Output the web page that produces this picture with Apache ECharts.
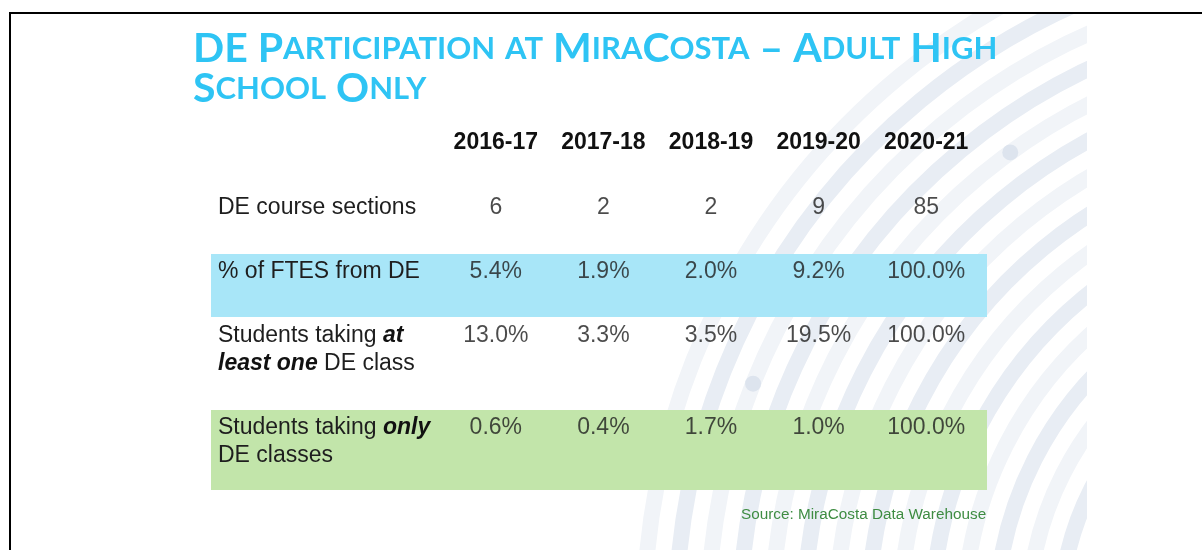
<!DOCTYPE html>
<html>
<head>
<meta charset="utf-8">
<script src="https://cdn.jsdelivr.net/npm/echarts@6/dist/echarts.min.js"></script>
<style>
  html, body { margin: 0; padding: 0; background: #fff; }
  #main { width: 1202px; height: 550px; }
</style>
</head>
<body>
<div id="main"></div>
<script>
// table data
var years = ['2016-17', '2017-18', '2018-19', '2019-20', '2020-21'];
var rowNames = [
  'DE course sections',
  '% of FTES from DE',
  'Students taking at least one DE class',
  'Students taking only DE classes'
];
var courseSections = [6, 2, 2, 9, 85];
var ftesPct = [5.4, 1.9, 2.0, 9.2, 100.0];
var atLeastOnePct = [13.0, 3.3, 3.5, 19.5, 100.0];
var onlyDePct = [0.6, 0.4, 1.7, 1.0, 100.0];

var titleText = 'DE Participation at MiraCosta \u2013 Adult High\nSchool Only';
var sourceText = 'Source: MiraCosta Data Warehouse';

// layout
var FONT = 'Liberation Sans, Arial, sans-serif';
var TEXT = '#1e1e1e';
var FS = 23;
var LH = 28;
var rowLine = [208, 272, 336, 428]; // centre of the first text line of each row
var colLeft = 442, colWidth = 538;
var bandLeft = 211, bandWidth = 776;

var rows = [
  { values: courseSections, fmt: function (v) { return String(v); }, band: null },
  { values: ftesPct, fmt: function (v) { return v.toFixed(1) + '%'; }, band: { top: 254, height: 63, color: '#a8e6f8' } },
  { values: atLeastOnePct, fmt: function (v) { return v.toFixed(1) + '%'; }, band: null },
  { values: onlyDePct, fmt: function (v) { return v.toFixed(1) + '%'; }, band: { top: 410, height: 80, color: '#c2e5aa' } }
];

// row label: bold italic for the emphasised words
function rowLabel(name) {
  return name
    .replace('at least one', '{bi|at}\n{bi|least one}')
    .replace('only DE', '{bi|only}\nDE');
}

// title in small caps
function smallCaps(s) {
  return s.split('\n').map(function (line) {
    return line.replace(/([a-z]+)|([^a-z]+)/g, function (m, lo, other) {
      return lo ? '{s|' + lo.toUpperCase() + '}' : '{L|' + other + '}';
    });
  }).join('\n');
}

var grids = [], xAxes = [], yAxes = [], series = [];
rows.forEach(function (row, i) {
  grids.push({ left: colLeft, width: colWidth, top: rowLine[i] - 24, height: 20 });
  xAxes.push({
    gridIndex: i,
    type: 'category',
    data: years,
    position: 'top',
    show: i === 0,
    z: 5,
    axisLine: { show: false },
    axisTick: { show: false },
    splitLine: { show: false },
    axisLabel: {
      interval: 0,
      margin: 29,
      fontFamily: FONT,
      fontSize: FS,
      fontWeight: 'bold',
      color: '#111',
      lineHeight: 24
    }
  });
  yAxes.push({
    gridIndex: i,
    type: 'category',
    data: [rowNames[i]],
    z: 5,
    axisLine: { show: false },
    axisTick: { show: false },
    splitLine: { show: false },
    axisLabel: {
      align: 'left',
      verticalAlign: 'top',
      margin: colLeft - 218,
      fontFamily: FONT,
      fontSize: FS,
      lineHeight: LH,
      color: TEXT,
      formatter: rowLabel,
      rich: {
        bi: { fontFamily: FONT, fontSize: FS, lineHeight: LH, fontWeight: 'bold', fontStyle: 'italic', color: '#111' }
      }
    }
  });
  series.push({
    type: 'scatter',
    xAxisIndex: i,
    yAxisIndex: i,
    symbolSize: 0,
    itemStyle: { color: TEXT },
    silent: true,
    z: 5,
    data: row.values.map(function (v, j) { return [years[j], rowNames[i], v]; }),
    label: {
      show: true,
      position: 'bottom',
      distance: 0,
      fontFamily: FONT,
      fontSize: FS,
      lineHeight: LH,
      color: TEXT,
      formatter: function (p) { return row.fmt(p.value[2]); }
    }
  });
});

// background: arcs, bands, frame
var graphic = [];
var arcC = [1350, 620];
for (var k = 0; k < 14; k++) {
  graphic.push({
    type: 'arc', z: 0, silent: true,
    shape: { cx: arcC[0], cy: arcC[1], r: 290 + k * 32, startAngle: Math.PI * 0.9, endAngle: Math.PI * 1.6 },
    style: { fill: null, stroke: k % 2 ? '#f1f4f8' : '#e8edf4', lineWidth: 16 }
  });
}
[[3, 1.42], [5, 1.38], [9, 1.30], [11, 1.12], [12, 1.08], [7, 1.44], [2, 1.05], [13, 1.42]].forEach(function (d) {
  var r = 290 + d[0] * 32, a = Math.PI * d[1];
  graphic.push({
    type: 'circle', z: 0, silent: true,
    shape: { cx: arcC[0] + r * Math.cos(a), cy: arcC[1] + r * Math.sin(a), r: 8 },
    style: { fill: '#dde4ee' }
  });
});
graphic.push({ type: 'rect', z: 0, silent: true, shape: { x: 1087, y: 0, width: 120, height: 550 }, style: { fill: '#fff' } });
graphic.push({ type: 'rect', z: 0, silent: true, shape: { x: 0, y: 0, width: 1202, height: 12 }, style: { fill: '#fff' } });
rows.forEach(function (row) {
  if (row.band) {
    graphic.push({
      type: 'rect', z: 1, silent: true,
      shape: { x: bandLeft, y: row.band.top, width: bandWidth, height: row.band.height },
      style: { fill: row.band.color }
    });
  }
});
graphic.push({ type: 'line', z: 1, silent: true, shape: { x1: 9, y1: 13, x2: 1202, y2: 13 }, style: { stroke: '#000', lineWidth: 2 } });
graphic.push({ type: 'line', z: 1, silent: true, shape: { x1: 10, y1: 12, x2: 10, y2: 550 }, style: { stroke: '#000', lineWidth: 2 } });

var titleStyle = { fontFamily: 'Lato, sans-serif', fontWeight: 'bold', color: '#2ec4f4', lineHeight: 40 };
var chart = echarts.init(document.getElementById('main'));
chart.setOption({
  animation: false,
  backgroundColor: '#fff',
  title: [{
    text: smallCaps(titleText),
    left: 188,
    top: 24,
    textStyle: {
      rich: {
        L: Object.assign({ fontSize: 41 }, titleStyle),
        s: Object.assign({ fontSize: 31 }, titleStyle)
      }
    }
  }, {
    text: sourceText,
    left: 736,
    top: 502,
    textStyle: { fontFamily: FONT, fontSize: 15.3, fontWeight: 'normal', color: '#3e8c42' }
  }],
  graphic: graphic,
  grid: grids,
  xAxis: xAxes,
  yAxis: yAxes,
  series: series
});
</script>
</body>
</html>
